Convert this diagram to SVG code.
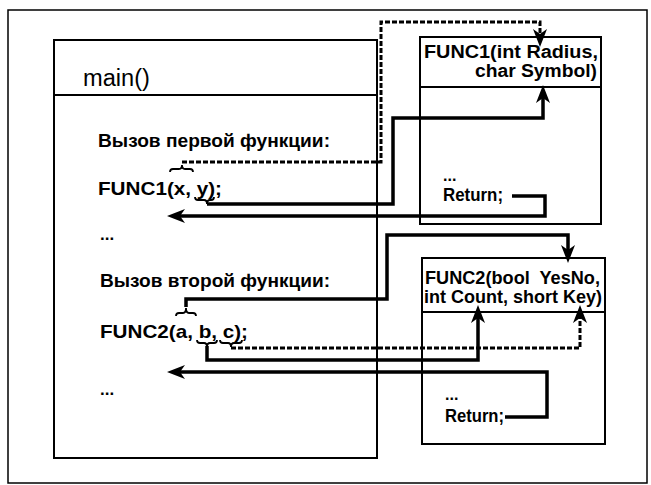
<svg xmlns="http://www.w3.org/2000/svg" width="651" height="485" viewBox="0 0 651 485">
<style>
.box{fill:none;stroke:#000;stroke-width:2}
.frame{fill:none;stroke:#000;stroke-width:1.5}
.t{font-family:"Liberation Sans",Arial,sans-serif;font-weight:bold;fill:#000}
.tr{font-family:"Liberation Sans",Arial,sans-serif;fill:#000}
.solid{fill:none;stroke:#000;stroke-width:3.5;stroke-linejoin:miter}
.dash{fill:none;stroke:#000;stroke-width:3;stroke-dasharray:5 2}
.brace{fill:none;stroke:#000;stroke-width:1.8}
</style>
<defs>
<marker id="arr" viewBox="0 0 18 14" markerWidth="18" markerHeight="14" refX="10" refY="7" orient="auto" markerUnits="userSpaceOnUse">
<path d="M0,0 L18,7 L0,14 L5,7 Z" fill="#000"/>
</marker>
</defs>
<rect width="651" height="485" fill="#fff"/>
<rect class="frame" x="8" y="10" width="639" height="473"/>

<g id="main">
<rect class="box" x="54" y="40" width="323" height="418"/>
<line class="box" x1="54" y1="95" x2="377" y2="95"/>
<text class="tr" x="83" y="86" font-size="23" textLength="67" lengthAdjust="spacingAndGlyphs">main()</text>
<text class="t" x="98" y="147" font-size="19" textLength="232" lengthAdjust="spacingAndGlyphs">Вызов первой функции:</text>
<text class="t" x="98" y="195" font-size="19" textLength="124" lengthAdjust="spacingAndGlyphs">FUNC1(x, y);</text>
<text class="t" x="100" y="240" font-size="17">...</text>
<text class="t" x="100" y="287" font-size="19" textLength="230" lengthAdjust="spacingAndGlyphs">Вызов второй функции:</text>
<text class="t" x="100" y="338" font-size="19" textLength="148" lengthAdjust="spacingAndGlyphs">FUNC2(a, b, c);</text>
<text class="t" x="100" y="395" font-size="17">...</text>
<path class="brace" d="M170,172 Q170,169 173,169 L179,169 Q182,169 182,165 Q182,169 185,169 L190,169 Q193,169 193,172"/>
<path class="brace" d="M195,197 Q195,200 198,200 L204,200 Q207,200 207,204 Q207,200 210,200 L211,200 Q214,200 214,197"/>
<path class="brace" d="M176,316 Q176,313 179,313 L183,313 Q186,313 186,308 Q186,313 189,313 L193,313 Q196,313 196,316"/>
<path class="brace" d="M197,340 Q197,343 200,343 L204,343 Q207,343 207,347 Q207,343 210,343 L214,343 Q217,343 217,340"/>
<path class="brace" d="M220,340 Q220,343 223,343 L228,343 Q231,343 231,347 Q231,343 234,343 L239,343 Q242,343 242,340"/>
</g>

<g id="func1">
<rect class="box" x="420" y="37" width="181" height="187"/>
<line class="box" x1="420" y1="87" x2="601" y2="87"/>
<text class="t" x="424" y="58" font-size="17.5" textLength="174" lengthAdjust="spacingAndGlyphs">FUNC1(int Radius,</text>
<text class="t" x="475" y="77" font-size="17.5" textLength="122" lengthAdjust="spacingAndGlyphs">char Symbol)</text>
<text class="t" x="443" y="181" font-size="16">...</text>
<text class="t" x="443" y="201" font-size="17.5" textLength="60" lengthAdjust="spacingAndGlyphs">Return;</text>
</g>

<g id="func2">
<rect class="box" x="422" y="258" width="183" height="186"/>
<line class="box" x1="422" y1="312" x2="605" y2="312"/>
<text class="t" x="425" y="284" font-size="17.5" textLength="175" lengthAdjust="spacingAndGlyphs">FUNC2(bool&#160; YesNo,</text>
<text class="t" x="424" y="303" font-size="17.5" textLength="178" lengthAdjust="spacingAndGlyphs">int Count, short Key)</text>
<text class="t" x="445" y="400" font-size="16">...</text>
<text class="t" x="445" y="422" font-size="17.5" textLength="59" lengthAdjust="spacingAndGlyphs">Return;</text>
</g>

<g id="connectors">
<path class="dash" d="M182,162 H381 V22 H540 V39" marker-end="url(#arr)"/>
<path class="solid" d="M207,204 H393 V118 H543 V93" marker-end="url(#arr)"/>
<path class="solid" d="M512,196 H545 V216 H175" marker-end="url(#arr)"/>
<path class="solid" d="M186,307 V299 H387 V235 H568 V255" marker-end="url(#arr)"/>
<path class="solid" d="M207,346 V360 H478 V313" marker-end="url(#arr)"/>
<path class="dash" d="M231,348 H580 V313" marker-end="url(#arr)"/>
<path class="solid" d="M505,417 H547 V372 H175" marker-end="url(#arr)"/>
</g>
</svg>
